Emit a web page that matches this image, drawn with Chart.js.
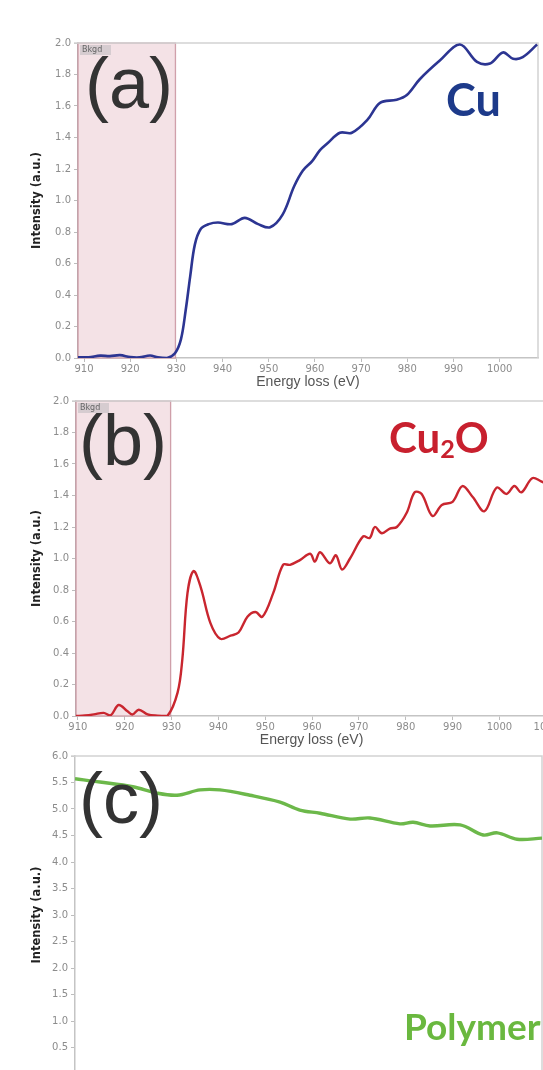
<!DOCTYPE html>
<html>
<head>
<meta charset="utf-8">
<script src="https://cdn.jsdelivr.net/npm/chart.js@4/dist/chart.umd.min.js"></script>
<style>
html, body { margin: 0; padding: 0; background: #fff; overflow: hidden; }
body { width: 543px; height: 1070px; position: relative; }
.panel { position: absolute; left: 0; }
.tag { position: absolute; font-family: "Liberation Sans", Arial, sans-serif; font-size: 72px; line-height: 1; color: #333; }
.name { position: absolute; font-family: Lato, sans-serif; font-weight: 700; line-height: 1; white-space: nowrap; }
</style>
</head>
<body>
<div class="panel" style="top:0"><canvas id="cuChart" width="543" height="400"></canvas></div>
<div class="panel" style="top:360px"><canvas id="cu2oChart" width="560" height="400"></canvas></div>
<div class="panel" style="top:720px"><canvas id="polymerChart" width="543" height="400"></canvas></div>

<div class="tag" style="left:85px; top:47px">(a)</div>
<div class="tag" style="left:79px; top:404px">(b)</div>
<div class="tag" style="left:79px; top:762px">(c)</div>
<div class="name" style="left:446px; top:77px; font-size:45px; color:#1d3a8a">Cu</div>
<div class="name" style="left:389px; top:416px; font-size:42px; color:#c8202e">Cu<span style="font-size:0.6em; position:relative; top:0.18em">2</span>O</div>
<div class="name" style="left:404px; top:1007px; font-size:37px; color:#6ab83f">Polymer</div>

<script>
// EELS Cu L-edge spectra: Cu, Cu2O and polymer reference

// (a) Cu
const energyA = [908.7, 911, 913.5, 915.6, 917.8, 920, 922, 924.3, 926, 928, 929.7, 931.0, 932.0, 933.0, 934.0, 935.3,
    937, 939, 942, 944.8, 947.7, 950.3, 953, 955.5, 957.4, 959.4, 961.1, 962.6, 965.4, 968.0, 971.3, 974.1,
    977.7, 979.9, 982.7, 987.1, 991.4, 995.1, 997.9, 1000.7, 1002.9, 1005.0, 1008.1];
const intensityA = [0.005, 0.005, 0.015, 0.012, 0.018, 0.006, 0.004, 0.016, 0.004, 0.0, 0.03, 0.12, 0.30, 0.52, 0.72, 0.82,
    0.85, 0.86, 0.85, 0.89, 0.85, 0.83, 0.91, 1.09, 1.19, 1.25, 1.32, 1.36, 1.43, 1.43, 1.51, 1.62,
    1.64, 1.67, 1.77, 1.89, 1.99, 1.88, 1.87, 1.94, 1.90, 1.91, 1.99];

// (b) Cu2O
const energyB = [909.6, 911.5, 913.4, 915.5, 917, 918.7, 920.6, 921.7, 923, 924.9, 927, 929.1, 931.3, 932.3, 933.4, 934.7,
    936.2, 938.3, 940.4, 942.6, 944.3, 946.2, 947.9, 949.4, 951.7, 953.8, 955.3, 957.4, 959.6, 960.6, 961.7,
    963.8, 965.1, 966.4, 968.1, 970.9, 972.3, 973.4, 974.9, 976.6, 978.1, 980.2, 981.9, 983.4, 985.7, 987.7,
    990, 992.1, 994.3, 996.8, 999.4, 1001.5, 1003.2, 1004.7, 1007, 1008.9, 1010.2];
const intensityB = [0.0, 0.003, 0.01, 0.02, 0.005, 0.07, 0.03, 0.01, 0.04, 0.01, 0.002, 0.0, 0.15, 0.36, 0.78, 0.92,
    0.82, 0.59, 0.49, 0.51, 0.53, 0.63, 0.66, 0.63, 0.78, 0.96, 0.96, 0.99, 1.03, 0.98, 1.04,
    0.97, 1.02, 0.93, 1.00, 1.14, 1.13, 1.20, 1.16, 1.19, 1.20, 1.29, 1.42, 1.41, 1.27, 1.34,
    1.36, 1.46, 1.39, 1.30, 1.45, 1.41, 1.46, 1.42, 1.51, 1.49, 1.47];

// (c) Polymer
const energyC = [909.6, 914.9, 921.9, 927, 931.3, 936.2, 940.4, 946.8, 953.2, 957.4, 961.7, 968.1, 972.3,
    978.7, 981.5, 985.1, 991.5, 996.4, 999.4, 1003.6, 1008.9];
const intensityC = [5.57, 5.51, 5.42, 5.30, 5.26, 5.36, 5.36, 5.26, 5.13, 4.98, 4.92, 4.81, 4.83,
    4.72, 4.75, 4.68, 4.70, 4.51, 4.55, 4.43, 4.45];

const energyTicks = [910, 920, 930, 940, 950, 960, 970, 980, 990, 1000, 1010];
const cuTicks = [0, 0.2, 0.4, 0.6, 0.8, 1.0, 1.2, 1.4, 1.6, 1.8, 2.0];
const polymerTicks = [0.5, 1.0, 1.5, 2.0, 2.5, 3.0, 3.5, 4.0, 4.5, 5.0, 5.5, 6.0];
const bkgdWindow = [905, 929.8];

// Pink background-fit window with its little tag
const bkgdPlugin = {
    id: 'bkgd',
    beforeDatasetsDraw(chart, args, opts) {
        if (!opts.range) return;
        const { ctx, chartArea, scales: { x } } = chart;
        const x0 = Math.max(x.getPixelForValue(opts.range[0]), chartArea.left);
        const x1 = x.getPixelForValue(opts.range[1]);
        const h = chartArea.bottom - chartArea.top;
        ctx.save();
        ctx.fillStyle = '#f4e2e6';
        ctx.fillRect(x0, chartArea.top, x1 - x0, h);
        ctx.strokeStyle = 'rgba(190, 125, 140, 0.7)';
        ctx.lineWidth = 1.3;
        ctx.strokeRect(x0, chartArea.top, x1 - x0, h);
        ctx.fillStyle = '#d6ccd0';
        ctx.fillRect(x0 + 2, chartArea.top + 2, 31, 10);
        ctx.fillStyle = '#666';
        ctx.font = '8px "DejaVu Sans"';
        ctx.textBaseline = 'middle';
        ctx.fillText('Bkgd', x0 + 4, chartArea.top + 7);
        ctx.restore();
    }
};

// Light frame on top and right of the plot area
const framePlugin = {
    id: 'frame',
    beforeDatasetsDraw(chart) {
        const { ctx, chartArea } = chart;
        ctx.save();
        ctx.strokeStyle = '#d2d2d2';
        ctx.lineWidth = 1.5;
        ctx.beginPath();
        ctx.moveTo(chartArea.left - 4, chartArea.top);
        ctx.lineTo(chartArea.right, chartArea.top);
        ctx.lineTo(chartArea.right, chartArea.bottom);
        ctx.stroke();
        ctx.restore();
    }
};

function toPoints(xs, ys) {
    return xs.map((x, i) => ({ x: x, y: ys[i] }));
}

function createPanel(id, cfg) {
    const ctx = document.getElementById(id).getContext('2d');
    return new Chart(ctx, {
        type: 'line',
        data: {
            datasets: [{
                data: toPoints(cfg.energy, cfg.intensity),
                borderColor: cfg.color,
                borderWidth: cfg.lineWidth,
                pointRadius: 0,
                tension: 0.35,
                fill: false
            }]
        },
        options: {
            responsive: false,
            animation: false,
            layout: { padding: cfg.padding },
            plugins: {
                legend: { display: false },
                tooltip: { enabled: false },
                bkgd: { range: cfg.bkgd }
            },
            scales: {
                x: {
                    type: 'linear',
                    display: cfg.showX,
                    min: cfg.xMin,
                    max: cfg.xMax,
                    afterBuildTicks: s => {
                        s.ticks = energyTicks.filter(v => v >= cfg.xMin && v <= cfg.xMax).map(v => ({ value: v }));
                    },
                    afterFit: s => { s.height = cfg.showX ? 37 : 0; },
                    grid: { drawOnChartArea: false, tickLength: 4, color: '#bdbdbd' },
                    border: { color: '#c4c4c4', width: 1.5 },
                    ticks: {
                        color: '#8c8c8c',
                        font: { family: 'DejaVu Sans', size: 10 },
                        padding: 1,
                        maxRotation: 0,
                        autoSkip: false,
                        callback: v => v
                    },
                    title: {
                        display: true,
                        text: 'Energy loss (eV)',
                        color: '#555',
                        font: { family: 'Liberation Sans', size: 14 },
                        padding: { top: 0, bottom: 4 }
                    }
                },
                y: {
                    min: cfg.yMin,
                    max: cfg.yMax,
                    afterBuildTicks: s => { s.ticks = cfg.yTicks.map(v => ({ value: v })); },
                    afterFit: s => { s.width = cfg.yWidth; },
                    grid: { drawOnChartArea: false, tickLength: 4, color: '#bdbdbd' },
                    border: { color: '#c4c4c4', width: 1.5 },
                    ticks: {
                        color: '#8c8c8c',
                        font: { family: 'DejaVu Sans', size: 10 },
                        padding: 3,
                        callback: v => v.toFixed(1)
                    },
                    title: {
                        display: true,
                        text: 'Intensity (a.u.)',
                        color: '#222',
                        font: { family: 'DejaVu Sans', size: 11.5, weight: 'bold' },
                        padding: { top: 4, bottom: 0 }
                    }
                }
            }
        },
        plugins: [bkgdPlugin, framePlugin]
    });
}

createPanel('cuChart', {
    energy: energyA, intensity: intensityA, color: '#2c3592', lineWidth: 2.6,
    xMin: 908.7, xMax: 1008.3, yMin: 0, yMax: 2, yTicks: cuTicks, showX: true,
    yWidth: 52, padding: { left: 26, top: 43, right: 5, bottom: 5 }, bkgd: bkgdWindow
});

createPanel('cu2oChart', {
    energy: energyB, intensity: intensityB, color: '#c9262f', lineWidth: 2.4,
    xMin: 909.6, xMax: 1010.2, yMin: 0, yMax: 2, yTicks: cuTicks, showX: true,
    yWidth: 50, padding: { left: 26, top: 41, right: 0, bottom: 7 }, bkgd: bkgdWindow
});

createPanel('polymerChart', {
    energy: energyC, intensity: intensityC, color: '#6cb84a', lineWidth: 3.4,
    xMin: 909.6, xMax: 1008.9, yMin: 0, yMax: 6, yTicks: polymerTicks, showX: false,
    yWidth: 49, padding: { left: 26, top: 36, right: 1, bottom: 46 }, bkgd: null
});
</script>
</body>
</html>
